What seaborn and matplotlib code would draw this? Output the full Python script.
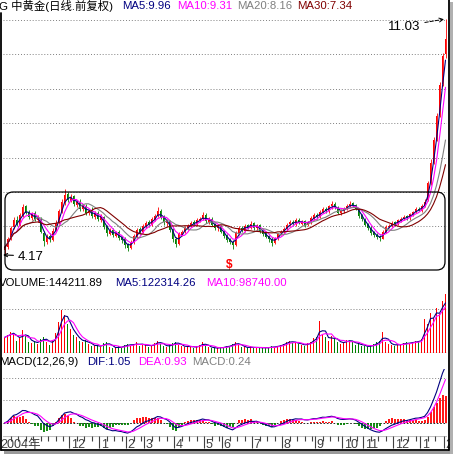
import numpy as np
import pandas as pd
import matplotlib
matplotlib.use("Agg")
import matplotlib.pyplot as plt
from matplotlib.patches import FancyBboxPatch, Rectangle
from matplotlib.lines import Line2D
import seaborn as sns

sns.set_theme(style="white")
plt.rcParams['font.family'] = ['Liberation Sans', 'Noto Sans CJK SC', 'DejaVu Sans']

# ------------------------------
# data (each bar = 2 trading days)
# ------------------------------
opens = [4.30, 4.40, 4.65, 4.98, 5.20, 5.05, 5.30, 5.58, 5.42, 5.25,
         5.38, 5.18, 5.22, 4.82, 4.55, 4.72, 4.60, 4.90, 5.12, 5.42,
         5.68, 5.95, 5.75, 5.88, 5.62, 5.72, 5.50, 5.60, 5.38, 5.48,
         5.28, 5.40, 5.20, 5.26, 5.00, 4.78, 4.90, 4.72, 4.84, 4.68,
         4.62, 4.48, 4.36, 4.55, 4.70, 4.92, 4.84, 5.00, 5.12, 5.04,
         5.20, 5.30, 5.46, 5.30, 5.10, 5.16, 4.92, 4.64, 4.50, 4.76,
         4.86, 4.94, 5.02, 5.12, 5.06, 5.20, 5.22, 5.34, 5.12, 5.22,
         5.06, 4.94, 5.02, 4.86, 4.74, 4.62, 4.56, 4.46, 4.78, 4.96,
         4.88, 5.04, 4.96, 5.10, 4.94, 5.04, 4.86, 4.80, 4.72, 4.64,
         4.52, 4.64, 4.80, 4.84, 4.92, 5.06, 5.14, 5.06, 5.20, 5.08,
         5.16, 5.04, 5.12, 5.24, 5.34, 5.28, 5.42, 5.52, 5.44, 5.58,
         5.66, 5.54, 5.38, 5.44, 5.52, 5.60, 5.68, 5.62, 5.50, 5.32,
         5.20, 5.06, 4.96, 4.84, 4.76, 4.70, 4.64, 4.84, 4.98, 5.02,
         5.12, 5.08, 5.16, 5.22, 5.30, 5.24, 5.34, 5.42, 5.52, 5.46,
         5.60, 5.78, 6.28, 6.90, 7.55, 8.25, 9.15, 10.00]
highs = [4.45, 4.68, 5.02, 5.28, 5.30, 5.38, 5.65, 5.62, 5.48, 5.42,
         5.45, 5.32, 5.28, 4.88, 4.78, 4.80, 4.95, 5.18, 5.52, 5.80,
         6.09, 6.00, 5.95, 5.92, 5.78, 5.80, 5.66, 5.65, 5.52, 5.55,
         5.45, 5.46, 5.35, 5.30, 5.05, 4.95, 4.95, 4.88, 4.90, 4.72,
         4.68, 4.52, 4.60, 4.78, 4.96, 4.98, 5.08, 5.16, 5.18, 5.28,
         5.36, 5.56, 5.50, 5.34, 5.22, 5.20, 4.96, 4.68, 4.84, 4.90,
         5.00, 5.08, 5.16, 5.18, 5.24, 5.28, 5.42, 5.38, 5.26, 5.28,
         5.10, 5.06, 5.05, 4.90, 4.78, 4.66, 4.60, 4.86, 5.00, 5.00,
         5.08, 5.08, 5.16, 5.14, 5.06, 5.08, 4.90, 4.84, 4.76, 4.68,
         4.70, 4.82, 4.90, 4.98, 5.10, 5.18, 5.18, 5.24, 5.24, 5.20,
         5.20, 5.16, 5.30, 5.38, 5.38, 5.48, 5.56, 5.56, 5.62, 5.74,
         5.70, 5.58, 5.50, 5.56, 5.66, 5.74, 5.72, 5.66, 5.54, 5.36,
         5.24, 5.10, 5.00, 4.88, 4.80, 4.74, 4.90, 5.04, 5.08, 5.15,
         5.16, 5.22, 5.26, 5.32, 5.34, 5.40, 5.46, 5.55, 5.56, 5.64,
         5.80, 6.32, 6.95, 7.60, 8.30, 9.20, 10.05, 11.03]
lows = [4.17, 4.35, 4.60, 4.92, 5.00, 5.00, 5.26, 5.35, 5.22, 5.20,
        5.15, 5.12, 4.80, 4.43, 4.50, 4.55, 4.58, 4.86, 5.08, 5.38,
        5.62, 5.72, 5.70, 5.60, 5.55, 5.46, 5.45, 5.32, 5.34, 5.24,
        5.22, 5.15, 5.14, 4.92, 4.72, 4.74, 4.68, 4.68, 4.60, 4.52,
        4.38, 4.28, 4.34, 4.50, 4.66, 4.78, 4.80, 4.96, 4.98, 5.00,
        5.15, 5.26, 5.22, 5.05, 5.02, 4.85, 4.56, 4.40, 4.45, 4.72,
        4.82, 4.90, 4.98, 5.00, 5.02, 5.14, 5.18, 5.10, 5.08, 5.00,
        4.90, 4.88, 4.80, 4.66, 4.55, 4.48, 4.34, 4.42, 4.74, 4.84,
        4.84, 4.92, 4.92, 4.90, 4.90, 4.80, 4.72, 4.65, 4.56, 4.43,
        4.48, 4.60, 4.76, 4.80, 4.88, 5.02, 5.02, 5.02, 5.06, 5.04,
        4.98, 5.00, 5.08, 5.20, 5.22, 5.24, 5.38, 5.40, 5.40, 5.52,
        5.50, 5.36, 5.34, 5.40, 5.48, 5.56, 5.55, 5.48, 5.25, 5.16,
        5.00, 4.90, 4.76, 4.70, 4.62, 4.58, 4.62, 4.80, 4.94, 4.98,
        5.02, 5.04, 5.12, 5.18, 5.20, 5.20, 5.30, 5.38, 5.44, 5.42,
        5.56, 5.74, 6.20, 6.82, 7.48, 8.18, 9.08, 9.90]
closes = [4.38, 4.62, 4.95, 5.18, 5.05, 5.32, 5.55, 5.40, 5.28, 5.35,
          5.22, 5.25, 4.85, 4.58, 4.70, 4.62, 4.88, 5.10, 5.45, 5.70,
          5.92, 5.78, 5.85, 5.66, 5.70, 5.52, 5.58, 5.40, 5.46, 5.30,
          5.38, 5.22, 5.28, 4.98, 4.80, 4.88, 4.75, 4.82, 4.66, 4.60,
          4.45, 4.38, 4.55, 4.72, 4.90, 4.85, 5.02, 5.10, 5.05, 5.22,
          5.30, 5.45, 5.28, 5.12, 5.15, 4.90, 4.62, 4.50, 4.78, 4.85,
          4.95, 5.02, 5.10, 5.08, 5.18, 5.22, 5.32, 5.15, 5.20, 5.05,
          4.95, 5.00, 4.85, 4.72, 4.60, 4.55, 4.45, 4.80, 4.95, 4.90,
          5.02, 4.98, 5.08, 4.95, 5.02, 4.85, 4.78, 4.70, 4.62, 4.52,
          4.65, 4.78, 4.85, 4.92, 5.05, 5.12, 5.08, 5.18, 5.10, 5.15,
          5.05, 5.12, 5.25, 5.32, 5.28, 5.42, 5.50, 5.45, 5.58, 5.65,
          5.55, 5.40, 5.45, 5.52, 5.60, 5.66, 5.60, 5.52, 5.30, 5.22,
          5.05, 4.95, 4.82, 4.75, 4.68, 4.65, 4.85, 4.98, 5.02, 5.10,
          5.08, 5.18, 5.22, 5.28, 5.25, 5.35, 5.42, 5.50, 5.48, 5.60,
          5.72, 6.25, 6.85, 7.52, 8.20, 9.10, 9.95, 10.45]
volumes = [38000, 45000, 52000, 48000, 30000, 36000, 55000, 42000, 28000, 25000,
           30000, 22000, 35000, 40000, 26000, 20000, 32000, 48000, 75000, 105000,
           92000, 70000, 58000, 45000, 38000, 30000, 26000, 32000, 22000, 18000,
           16000, 20000, 14000, 24000, 28000, 15000, 13000, 12000, 16000, 14000,
           20000, 22000, 18000, 21000, 26000, 17000, 22000, 19000, 15000, 20000,
           24000, 30000, 22000, 18000, 14000, 20000, 24000, 28000, 20000, 16000,
           14000, 18000, 15000, 13000, 16000, 20000, 26000, 18000, 14000, 12000,
           13000, 11000, 15000, 14000, 17000, 18000, 22000, 26000, 20000, 15000,
           14000, 12000, 16000, 13000, 12000, 15000, 11000, 13000, 14000, 16000,
           14000, 18000, 20000, 22000, 28000, 30000, 24000, 26000, 22000, 20000,
           18000, 24000, 28000, 36000, 40000, 78000, 45000, 38000, 30000, 42000,
           35000, 26000, 22000, 28000, 32000, 30000, 26000, 20000, 24000, 18000,
           16000, 15000, 18000, 22000, 26000, 30000, 51000, 28000, 22000, 20000,
           18000, 22000, 20000, 24000, 26000, 22000, 28000, 30000, 26000, 34000,
           83000, 72000, 98000, 86000, 110000, 95000, 128000, 144211.89]

# first bar of each month, and the axis labels
month_start = [0, 22, 32, 41, 47, 57, 67, 73, 83, 93, 104, 113, 120, 130, 139, 147]
month_labels = ["2004年", "12", "1", "2", "3", "4", "5", "6", "7", "8",
                "9", "10", "11", "12", "1", "2"]

ma_days = [5, 10, 20, 30]
ma_colors = ['#000080', '#ff00ff', '#808080', '#800000']
RED, GREEN = '#ff0000', '#008000'
DAYS_PER_BAR = 2

W, H = 454, 456
fig = plt.figure(figsize=(W / 100, H / 100), dpi=100)
fig.patch.set_facecolor('white')


def rect(x0, y0, x1, y1):
    return [x0 / W, 1 - y1 / H, (x1 - x0) / W, (y1 - y0) / H]


def fx(x):
    return x / W


def fy(y):
    return 1 - y / H


def bars(days):
    return int(np.ceil(days / DAYS_PER_BAR))


def clean(ax):
    ax.set_xticks([])
    ax.set_yticks([])
    for s in ax.spines.values():
        s.set_visible(False)
    ax.set_facecolor('none')
    ax.set_xlim(-0.5, n - 0.5)


def dotted(ax, v):
    ax.axhline(v, color='#808080', lw=0.7, ls=(0, (1, 2)), zorder=0)


df = pd.DataFrame({'open': opens, 'high': highs, 'low': lows,
                   'close': closes, 'volume': volumes})
n = len(df)
idx = np.arange(n)
up = df['close'] >= df['open']
col = np.where(up, RED, GREEN)

# ------------------------------
# price panel
# ------------------------------
axp = fig.add_axes(rect(3, 13, 447, 272))
clean(axp)
for v in range(5, 12):
    dotted(axp, v)
axp.vlines(idx, df['low'], df['high'], colors=col, lw=0.6, zorder=2)
axp.bar(idx, (df['close'] - df['open']).abs().clip(lower=0.012),
        bottom=np.minimum(df['open'], df['close']), width=0.62, color=col, lw=0, zorder=2)
for d, c in zip(ma_days, ma_colors):
    ma = df['close'].rolling(bars(d), min_periods=1).mean()
    sns.lineplot(x=idx, y=ma.values, ax=axp, color=c, lw=0.8, zorder=3, legend=False)
axp.set_xlim(-0.5, n - 0.5)
axp.set_ylim(3.703, 11.233)

imax = int(df['high'].idxmax())
imin = int(df['low'].idxmin())
axp.annotate(f"{df['high'].max():.2f}", xy=(imax, df['high'].max()),
             xytext=(fx(404), fy(27)), textcoords='figure fraction',
             ha='center', va='center', fontsize=9.5, color='black',
             arrowprops=dict(arrowstyle='->,head_length=0.3,head_width=0.15',
                             color='black', lw=0.7, ls='--', shrinkA=1, shrinkB=1))
axp.annotate(f"{df['low'].min():.2f}", xy=(imin - 0.5, df['low'].min()),
             xytext=(fx(31), fy(257)), textcoords='figure fraction',
             ha='center', va='center', fontsize=9.5, color='black',
             arrowprops=dict(arrowstyle='->,head_length=0.25,head_width=0.12',
                             color='black', lw=0.8, shrinkA=1, shrinkB=0))
axp.text(75, 3.9, r'\$', color='red', ha='center', va='center',
         fontsize=8.5, fontweight='bold')

# ------------------------------
# volume panel
# ------------------------------
axv = fig.add_axes(rect(3, 290, 447, 354))
clean(axv)
dotted(axv, 107500)
axv.bar(idx, df['volume'], width=0.62, color=col, lw=0, zorder=2)
for d, c in zip([5, 10], ['#000080', '#ff00ff']):
    vma = df['volume'].rolling(bars(d), min_periods=1).mean()
    sns.lineplot(x=idx, y=vma.values, ax=axv, color=c, lw=0.8, zorder=3, legend=False)
axv.axhline(0, color='#a0a0a0', lw=1.0, zorder=1)
axv.set_xlim(-0.5, n - 0.5)
axv.set_ylim(0, 156400)

# ------------------------------
# MACD panel
# ------------------------------
ema_fast = df['close'].ewm(span=12 / DAYS_PER_BAR, adjust=False).mean()
ema_slow = df['close'].ewm(span=26 / DAYS_PER_BAR, adjust=False).mean()
dif = ema_fast - ema_slow
dea = dif.ewm(span=9 / DAYS_PER_BAR, adjust=False).mean()
hist = 2 * (dif - dea)

axm = fig.add_axes(rect(3, 370, 447, 437))
clean(axm)
dotted(axm, 0.5)
dotted(axm, 1.0)
axm.vlines(idx, 0, hist, colors=np.where(hist >= 0, RED, GREEN), lw=1.3, zorder=2)
axm.axhline(0, color='black', lw=0.6, ls=(0, (2, 2)), zorder=1)
sns.lineplot(x=idx, y=dif.values, ax=axm, color='#000080', lw=0.8, zorder=3, legend=False)
sns.lineplot(x=idx, y=dea.values, ax=axm, color='#ff00ff', lw=0.8, zorder=3, legend=False)
axm.set_xlim(-0.5, n - 0.5)
axm.set_ylim(-0.289, 1.2)

# ------------------------------
# month axis
# ------------------------------
axx = fig.add_axes(rect(3, 437, 447, 451))
clean(axx)
axx.set_ylim(0, 1)
axx.axhline(1, color='#c0c0c0', lw=0.8)
starts = [m - 0.5 for m in month_start]
bounds = starts + [n - 0.5 + 2.5]
for k, (s, lab) in enumerate(zip(starts, month_labels)):
    if k > 0:
        axx.vlines(s, 0.15, 1, color='#404040', lw=0.8)
    for t in np.arange(s + 2.5, bounds[k + 1] - 0.8, 2.5):
        if t < n - 0.5:
            axx.vlines(t, 0.65, 1, color='#404040', lw=0.8)
    axx.text(s + 0.6 if k > 0 else -1.4, 0.42, lab, ha='left', va='center',
             fontsize=9, color='#404040', clip_on=False)

# ------------------------------
# header texts
# ------------------------------
fs = 8.2


def label(x, y, s, c):
    fig.text(fx(x), fy(y), s, ha='left', va='center', fontsize=fs, color=c)


label(-1, 6, "G 中黄金(日线.前复权)", 'black')
label(122, 6, "MA5:9.96", '#000080')
label(177, 6, "MA10:9.31", '#ff00ff')
label(237, 6, "MA20:8.16", '#808080')
label(297, 6, "MA30:7.34", '#800000')

label(-1, 283, "VOLUME:144211.89", 'black')
label(115, 283, "MA5:122314.26", '#000080')
label(206, 283, "MA10:98740.00", '#ff00ff')

label(-1, 362, "MACD(12,26,9)", 'black')
label(87, 362, "DIF:1.05", '#000080')
label(138, 362, "DEA:0.93", '#ff00ff')
label(192, 362, "MACD:0.24", '#808080')

# ------------------------------
# frame, box and shadow
# ------------------------------
box = FancyBboxPatch((fx(5), fy(271)), fx(445) - fx(5), fy(193) - fy(271),
                     boxstyle='round,pad=0,rounding_size=0.018',
                     transform=fig.transFigure, fill=False, ec='black', lw=0.9, zorder=10)
fig.add_artist(box)
fig.add_artist(Line2D([fx(1), fx(1)], [fy(14), fy(451)], color='black', lw=1.3,
                      transform=fig.transFigure))
fig.add_artist(Line2D([fx(448.5), fx(448.5)], [fy(0), fy(451)], color='black', lw=1.3,
                      transform=fig.transFigure))
fig.add_artist(Line2D([fx(1), fx(449)], [fy(451), fy(451)], color='black', lw=1.3,
                      transform=fig.transFigure))
fig.add_artist(Rectangle((fx(4), fy(455)), fx(450) - fx(4), fy(452) - fy(455),
                         transform=fig.transFigure, color='#9a9a9a', lw=0))
fig.add_artist(Rectangle((fx(450), fy(455)), fx(453) - fx(450), fy(3) - fy(455),
                         transform=fig.transFigure, color='#b0b0b0', lw=0))

fig.savefig("out.png", dpi=100)
